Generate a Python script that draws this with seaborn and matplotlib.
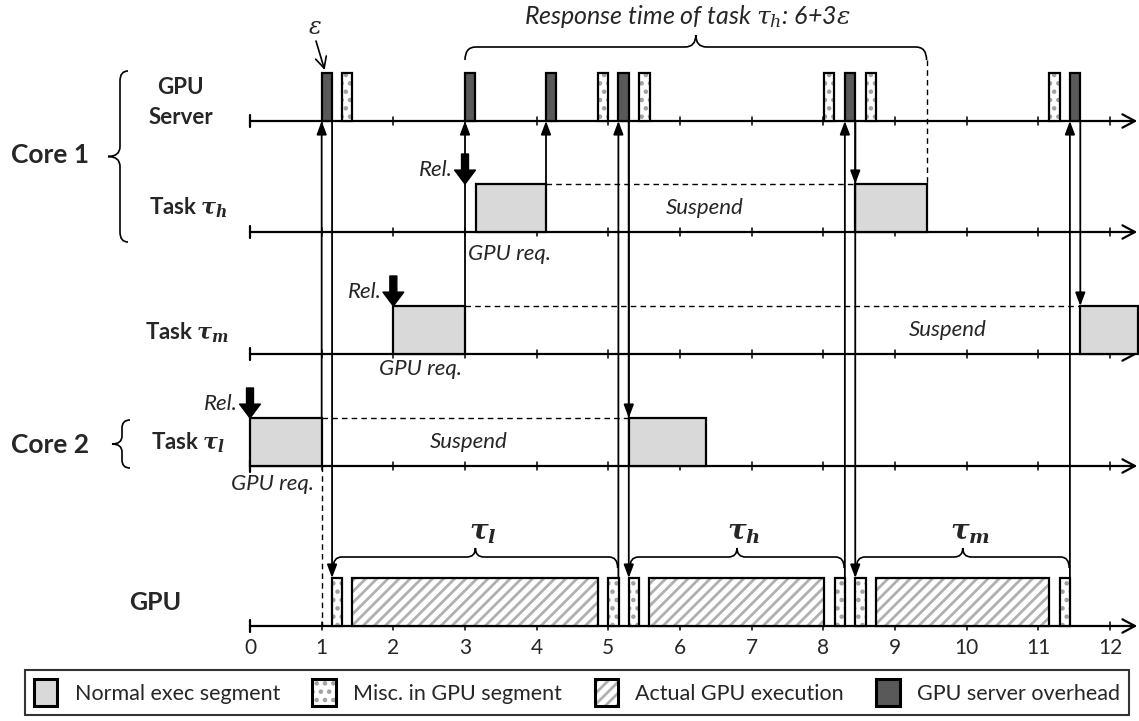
import numpy as np
import matplotlib.pyplot as plt
import seaborn as sns
from matplotlib.patches import Patch, PathPatch
from matplotlib.path import Path

# --- data (time units) ---
eps = 0.145
tick_values = list(range(13))

server_overhead = [1.0, 3.0, 4.13, 5.14, 8.30, 11.44]   # dark blocks on GPU server
server_misc = [1.28, 4.855, 5.43, 8.01, 8.59, 11.15]     # dotted blocks on GPU server

seg_h = [(3.15, 4.13), (8.445, 9.44)]
seg_m = [(2.0, 3.0), (11.585, 12.39)]
seg_l = [(0.0, 1.0), (5.285, 6.36)]
release_h, release_m, release_l = 3.0, 2.0, 0.0
suspend_h = (4.13, 8.445)
suspend_m = (3.0, 11.585)
suspend_l = (1.0, 5.285)

gpu_misc = [1.145, 5.0, 5.285, 8.16, 8.445, 11.295]
gpu_exec_start = [1.43, 5.57, 8.73]
gpu_exec_end = [4.86, 8.01, 11.15]
gpu_brace = [(1.16, 5.13), (5.30, 8.29), (8.46, 11.43)]
gpu_brace_lbl = [r"$\mathbf{\tau_l}$", r"$\mathbf{\tau_h}$", r"$\mathbf{\tau_m}$"]
response_h = (3.0, 9.44)

# (time, row the line starts from) -> arrow up to GPU server
up_arrows = [(1.0, "l"), (3.0, "m"), (4.13, "h"), (5.14, "gpu"), (8.30, "gpu"), (11.44, "gpu")]
# (time, row the arrow goes to) <- arrow down from GPU server
down_arrows = [(1.145, "gpu"), (5.285, "gpu"), (5.285, "l"), (8.445, "gpu"), (8.445, "h"), (11.585, "m")]

# --- layout (pixel rows) ---
W, H = 1139, 721
PX = 71.67            # pixels per time unit
X0 = 250              # pixel of t=0
row_y = {"server": 121, "h": 232, "m": 354, "l": 466, "gpu": 626}
BH = 48               # block height in px

sns.set_theme(style="white")
plt.rcParams["font.family"] = ["Lato", "DejaVu Sans"]
plt.rcParams["mathtext.fontset"] = "custom"
plt.rcParams["mathtext.it"] = "DejaVu Serif:italic"
plt.rcParams["mathtext.bf"] = "DejaVu Serif:italic:bold"
plt.rcParams["mathtext.rm"] = "DejaVu Serif"
plt.rcParams["hatch.linewidth"] = 2.0

fig = plt.figure(figsize=(W / 100, H / 100), dpi=100)
ax = fig.add_axes([0, 0, 1, 1])
ax.set_xlim(-X0 / PX, (W - X0) / PX)
ax.set_ylim(H, 0)
ax.axis("off")

GRAY = "#d9d9d9"
DARK = "#595959"
ITS = 16   # italic annotation size


def px(n):
    return n / PX


def block(x0, x1, base, kind):
    w = x1 - x0
    if kind == "normal":
        ax.bar(x0, -BH, width=w, bottom=base, align="edge", color=GRAY, edgecolor="black", lw=1.6, zorder=3)
    elif kind == "dark":
        ax.bar(x0, -BH, width=w, bottom=base, align="edge", color=DARK, edgecolor="black", lw=1.6, zorder=3)
    else:
        hatch = ".." if kind == "misc" else "///"
        hc = "#a0a0a0" if kind == "misc" else "#b0b0b0"
        ax.bar(x0, -BH, width=w, bottom=base, align="edge", color="white", edgecolor=hc, hatch=hatch, lw=0, zorder=3)
        ax.bar(x0, -BH, width=w, bottom=base, align="edge", fill=False, edgecolor="black", lw=1.6, zorder=4)


def hbrace(x0, x1, y, d, t, r, **kw):
    xm = (x0 + x1) / 2
    verts = [(x0, y + d), (x0, y), (x0 + r, y), (xm - r, y), (xm, y), (xm, y - t),
             (xm, y), (xm + r, y), (x1 - r, y), (x1, y), (x1, y + d)]
    codes = [Path.MOVETO, Path.CURVE3, Path.CURVE3, Path.LINETO, Path.CURVE3, Path.CURVE3,
             Path.CURVE3, Path.CURVE3, Path.LINETO, Path.CURVE3, Path.CURVE3]
    ax.add_patch(PathPatch(Path(verts, codes), fill=False, lw=1.2, ec="black", **kw))


def vbrace(x, y0, y1, d, t, r):
    ym = (y0 + y1) / 2
    verts = [(x + d, y0), (x, y0), (x, y0 + r), (x, ym - r), (x, ym), (x - t, ym),
             (x, ym), (x, ym + r), (x, y1 - r), (x, y1), (x + d, y1)]
    codes = [Path.MOVETO, Path.CURVE3, Path.CURVE3, Path.LINETO, Path.CURVE3, Path.CURVE3,
             Path.CURVE3, Path.CURVE3, Path.LINETO, Path.CURVE3, Path.CURVE3]
    ax.add_patch(PathPatch(Path(verts, codes), fill=False, lw=1.2, ec="black"))


def arrow(x, y_from, y_to):
    ax.annotate("", xy=(x, y_to), xytext=(x, y_from),
                arrowprops=dict(arrowstyle="-|>,head_length=0.4,head_width=0.15", lw=1.3,
                                color="black", shrinkA=0, shrinkB=0, mutation_scale=20), zorder=5)


def rel_arrow(x, y_to, label):
    ax.annotate("", xy=(x, y_to), xytext=(x, y_to - 30),
                arrowprops=dict(arrowstyle="simple,head_length=0.5,head_width=0.75,tail_width=0.25",
                                fc="black", ec="black", shrinkA=0, shrinkB=0, mutation_scale=20), zorder=6)
    ax.text(x - px(12), y_to - 14, label, ha="right", va="center", fontsize=ITS, style="italic")


# time axes
for key, y in row_y.items():
    ax.annotate("", xy=(12.38, y), xytext=(0, y),
                arrowprops=dict(arrowstyle="->,head_length=0.45,head_width=0.24", lw=1.6,
                                color="black", shrinkA=0, shrinkB=0, mutation_scale=20), zorder=2)
    ax.plot([0, 0], [y - 6, y + 6], color="black", lw=1.6, zorder=2)
    for t in tick_values[1:]:
        ax.plot([t, t], [y - 4, y + 4], color="black", lw=1.1, zorder=2)

for t in tick_values:
    ax.text(t, 648, str(t), ha="center", va="center", fontsize=15)

# GPU server blocks
for s in server_overhead:
    block(s, s + eps, row_y["server"], "dark")
for s in server_misc:
    block(s, s + eps, row_y["server"], "misc")

# task segments
for segs, key in [(seg_h, "h"), (seg_m, "m"), (seg_l, "l")]:
    for a, b in segs:
        block(a, b, row_y[key], "normal")

# suspend dashed lines
for (a, b), key, xt in [(suspend_h, "h", 6.35), (suspend_m, "m", 9.73), (suspend_l, "l", 3.05)]:
    y = row_y[key] - BH
    ax.plot([a, b], [y, y], color="black", lw=1.0, ls=(0, (4, 3)), zorder=2)
    ax.text(xt, row_y[key] - 24, "Suspend", ha="center", va="center", fontsize=ITS, style="italic")

# GPU blocks
for s in gpu_misc:
    block(s, s + eps, row_y["gpu"], "misc")
for a, b in zip(gpu_exec_start, gpu_exec_end):
    block(a, b, row_y["gpu"], "exec")

# communication arrows
top = {"h": row_y["h"] - BH, "m": row_y["m"] - BH, "l": row_y["l"] - BH, "gpu": row_y["gpu"] - BH}
for x, src in up_arrows:
    arrow(x, top[src], row_y["server"])
for x, dst in down_arrows:
    arrow(x, row_y["server"], top[dst])

# GPU request dashed to GPU
ax.plot([suspend_l[0]] * 2, [row_y["l"], row_y["gpu"]], color="black", lw=1.0, ls=(0, (4, 3)), zorder=2)

# release arrows
rel_arrow(release_h, top["h"], "Rel.")
rel_arrow(release_m, top["m"], "Rel.")
rel_arrow(release_l, top["l"], "Rel.")

# GPU req. labels
ax.text(suspend_m[0] + px(3), 254, "GPU req.", ha="left", va="center", fontsize=ITS, style="italic")
ax.text(release_m + px(27), 369, "GPU req.", ha="center", va="center", fontsize=ITS, style="italic")
ax.text(suspend_l[0] - px(8), 484, "GPU req.", ha="right", va="center", fontsize=ITS, style="italic")

# response time brace
hbrace(response_h[0], response_h[1], 47, 13, 12, 0.15)
ax.plot([response_h[1]] * 2, [60, top["h"]], color="black", lw=1.0, ls=(0, (4, 3)), zorder=2)
ax.text((response_h[0] + response_h[1]) / 2 - 0.12, 17, r"Response time of task $\tau_h$: 6+3$\varepsilon$",
        ha="center", va="center", fontsize=18, style="italic")

# epsilon marker
ax.text(px(65), 28, r"$\varepsilon$", ha="center", va="center", fontsize=17)
ax.annotate("", xy=(server_overhead[0] + px(3), 70), xytext=(px(66), 41),
            arrowprops=dict(arrowstyle="->,head_length=0.4,head_width=0.2", lw=1.2, color="black",
                            shrinkA=0, shrinkB=0, mutation_scale=20))

# GPU braces
for (a, b), lbl in zip(gpu_brace, gpu_brace_lbl):
    hbrace(a, b, 557, 11, 9, 0.12)
    ax.text((a + b) / 2 + 0.1, 533, lbl, ha="center", va="center", fontsize=20)

# row labels
ax.text(px(-70), 87, "GPU", ha="center", va="center", fontsize=16, weight="bold")
ax.text(px(-69), 118, "Server", ha="center", va="center", fontsize=16, weight="bold")
ax.text(px(-62), 208, r"Task $\mathbf{\tau_h}$", ha="center", va="center", fontsize=16, weight="bold")
ax.text(px(-63), 333, r"Task $\mathbf{\tau_m}$", ha="center", va="center", fontsize=16, weight="bold")
ax.text(px(-62), 443, r"Task $\mathbf{\tau_l}$", ha="center", va="center", fontsize=16, weight="bold")
ax.text(px(-95), 603, "GPU", ha="center", va="center", fontsize=18, weight="bold")
ax.text(px(-200), 155, "Core 1", ha="center", va="center", fontsize=19, weight="bold")
ax.text(px(-200), 445, "Core 2", ha="center", va="center", fontsize=19, weight="bold")
vbrace(px(-130), 71, 242, px(8), px(12), 10)
vbrace(px(-128), 420, 468, px(8), px(10), 8)

# legend
handles = [
    Patch(fc=GRAY, ec="black", lw=2.2),
    (Patch(fc="white", ec="#a0a0a0", hatch="..", lw=0), Patch(fc="none", ec="black", lw=2.2)),
    (Patch(fc="white", ec="#b0b0b0", hatch="///", lw=0), Patch(fc="none", ec="black", lw=2.2)),
    Patch(fc=DARK, ec="black", lw=2.2),
]
labels = ["Normal exec segment", "Misc. in GPU segment", "Actual GPU execution", "GPU server overhead"]
leg = fig.legend(handles, labels, loc="center", ncol=4, mode="expand",
                 bbox_to_anchor=(25 / W, 3 / H, 1104 / W, 51 / H), fontsize=15.5,
                 frameon=True, fancybox=False, edgecolor="black", handlelength=1.1,
                 handleheight=1.6, handletextpad=0.8, borderaxespad=0, borderpad=0.4)
leg.get_frame().set_linewidth(1.5)

fig.savefig("out.png", dpi=100)
